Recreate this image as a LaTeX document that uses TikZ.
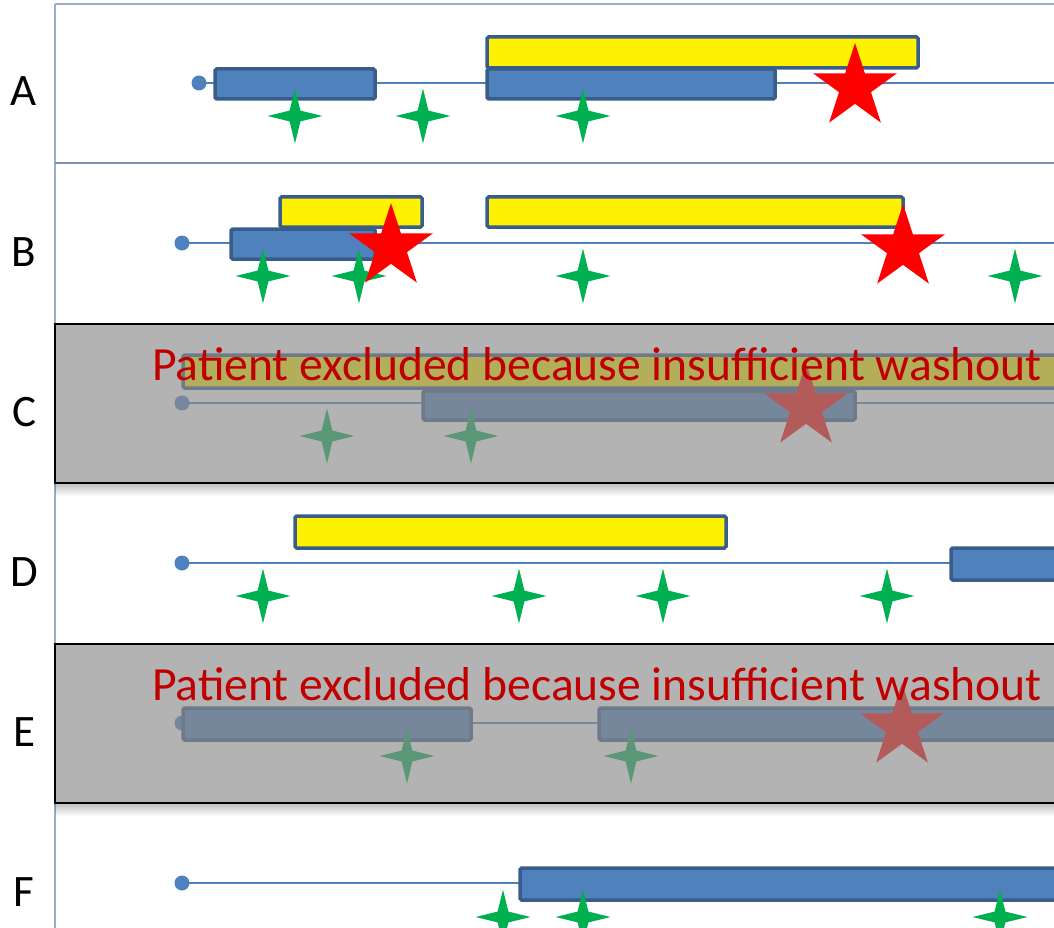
\documentclass[tikz,border=0pt]{standalone}
\usepackage{fontspec}
\setmainfont{Carlito}
\usetikzlibrary{shapes.geometric}
\definecolor{barblue}{HTML}{4F81BD}
\definecolor{bardark}{HTML}{385D8A}
\definecolor{rulegrey}{HTML}{9AAECB}
\definecolor{rulesep}{HTML}{7890B2}
\definecolor{sparkgreen}{HTML}{00B050}
\definecolor{notered}{HTML}{C00000}
\definecolor{veil}{RGB}{139,139,139}
\tikzset{
	treat/.style={draw=bardark, line width=3.5pt, fill=barblue, rounded corners=1.5pt},
	drug/.style={treat, fill=yellow},
	spark/.style={star, star points=4, star point ratio=3.6, minimum size=55pt, inner sep=0pt, fill=sparkgreen},
	event/.style={star, star points=5, star point ratio=2.618, minimum size=88pt, inner sep=0pt, fill=red},
	rowlabel/.style={font=\fontsize{45}{54}\selectfont, anchor=base, inner sep=0pt},
	excluded/.style={draw=black, line width=2.5pt, fill=veil, fill opacity=0.65},
	note/.style={text=notered, font=\fontsize{47.6}{57}\selectfont, anchor=base west, inner sep=0pt}
}
\def\timeline(#1,#2){\draw[barblue, line width=2.2pt] (#1,#2) -- (1070,#2); \fill[barblue] (#1,#2) circle (7.5);}
\def\dropshadow(#1){\foreach \k in {0,...,11} \fill[black, opacity={0.02*(12-\k)}] (55,#1+\k) rectangle (1070,#1+\k+1);}

\begin{document}
\begin{tikzpicture}[x=1pt, y=-1pt]
		%%%%% START %%%%%
		\useasboundingbox (0,0) rectangle (1054,928);
		\clip (0,0) rectangle (1054,928);
		
		\draw[rulegrey, line width=1.5pt] (55,4) -- (1054,4);
		\draw[rulegrey, line width=1.5pt] (55,4) -- (55,928);
		\draw[rulesep, line width=2pt] (55,163) -- (1054,163);
		
		% row A
		\node[rowlabel] (labA) at (24,106) {A};
		\timeline(199,83)
		\draw[treat] (215,69) rectangle (375,99);
		\draw[drug] (487,37) rectangle (918,68);
		\draw[treat] (487,69) rectangle (775,99);
		\node[spark] (sA1) at (295,116) {};
		\node[spark] (sA2) at (423,116) {};
		\node[spark] (sA3) at (583,116) {};
		\node[event] (eA1) at (855,87) {};
		
		% row B
		\node[rowlabel] (labB) at (24,266) {B};
		\timeline(182,243)
		\draw[drug] (280,197) rectangle (422,227);
		\draw[treat] (231,229) rectangle (375,259);
		\draw[drug] (487,197) rectangle (903,227);
		\node[spark] (sB1) at (263,276) {};
		\node[spark] (sB2) at (359,276) {};
		\node[spark] (sB3) at (583,276) {};
		\node[spark] (sB4) at (1015,276) {};
		\node[event] (eB1) at (391,247) {};
		\node[event] (eB2) at (903,248) {};
		
		% row C
		\node[rowlabel] (labC) at (24,426) {C};
		\timeline(182,403)
		\draw[drug] (183,355) rectangle (1070,388);
		\draw[treat] (423,391) rectangle (855,420);
		\node[spark] (sC1) at (327,436) {};
		\node[spark] (sC2) at (471,436) {};
		\node[event] (eC1) at (806,407) {};
		\dropshadow(484)
		\draw[excluded] (55,324) rectangle (1070,483);
		\node[note] (noteC) at (152,380) {Patient excluded because insufficient washout};
		
		% row D
		\node[rowlabel] (labD) at (24,586) {D};
		\timeline(182,563)
		\draw[drug] (295,516) rectangle (726,548);
		\draw[treat] (951,548) rectangle (1070,580);
		\node[spark] (sD1) at (263,596) {};
		\node[spark] (sD2) at (519,596) {};
		\node[spark] (sD3) at (663,596) {};
		\node[spark] (sD4) at (887,596) {};
		
		% row E
		\node[rowlabel] (labE) at (24,746) {E};
		\timeline(182,723)
		\draw[treat] (183,708) rectangle (471,740);
		\draw[treat] (599,708) rectangle (1070,740);
		\node[spark] (sE1) at (407,756) {};
		\node[spark] (sE2) at (631,756) {};
		\node[event] (eE1) at (902,727) {};
		\dropshadow(804)
		\draw[excluded] (55,644) rectangle (1070,803);
		\node[note] (noteE) at (152,700) {Patient excluded because insufficient washout};
		
		% row F
		\node[rowlabel] (labF) at (24,906) {F};
		\timeline(182,883)
		\draw[treat] (520,868) rectangle (1070,900);
		\node[spark] (sF1) at (503,917) {};
		\node[spark] (sF2) at (583,917) {};
		\node[spark] (sF3) at (1000,917) {};
		
		%%%%% END %%%%%
\end{tikzpicture}
\end{document}
